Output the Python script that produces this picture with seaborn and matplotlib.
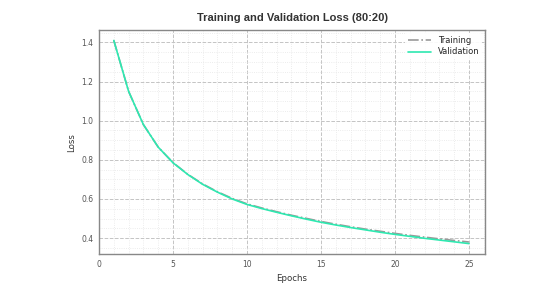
import matplotlib
matplotlib.use("Agg")
import matplotlib.pyplot as plt
import seaborn as sns
import pandas as pd
from matplotlib.ticker import AutoMinorLocator

epochs = list(range(1, 26))
train_loss = [1.41, 1.15, 0.98, 0.865, 0.786, 0.726, 0.677, 0.637, 0.603, 0.575,
              0.554, 0.535, 0.517, 0.501, 0.485, 0.471, 0.458, 0.446, 0.435, 0.424,
              0.414, 0.405, 0.396, 0.388, 0.380]
val_loss = [1.41, 1.15, 0.98, 0.865, 0.785, 0.725, 0.675, 0.635, 0.600, 0.572,
            0.551, 0.532, 0.514, 0.497, 0.481, 0.467, 0.454, 0.442, 0.430, 0.419,
            0.409, 0.399, 0.390, 0.381, 0.372]

sns.set_theme(style="white")
plt.rcParams['font.family'] = ['DejaVu Sans']

df = pd.DataFrame({'epoch': epochs, 'Training': train_loss, 'Validation': val_loss})

fig = plt.figure(figsize=(5.47, 3.04), dpi=100)
ax = fig.add_axes([0.181, 0.164, 0.706, 0.737])

sns.lineplot(data=df, x='epoch', y='Training', ax=ax, color='#999999',
             linestyle='-.', linewidth=1.2, label='Training')
sns.lineplot(data=df, x='epoch', y='Validation', ax=ax, color='#2ee8b0',
             linewidth=1.2, label='Validation')

ax.set_xlim(0, 26.1)
ax.set_ylim(0.318, 1.463)
ax.set_xticks([0, 5, 10, 15, 20, 25])
ax.set_yticks([0.4, 0.6, 0.8, 1.0, 1.2, 1.4])
ax.xaxis.set_minor_locator(AutoMinorLocator(5))
ax.yaxis.set_minor_locator(AutoMinorLocator(4))
ax.grid(which='major', linestyle='--', color='#c4c4c4', linewidth=0.7)
ax.grid(which='minor', linestyle=':', color='#e6e6e6', linewidth=0.6)
ax.tick_params(which='both', direction='in', labelsize=5.5, colors='#555555', pad=4)
ax.tick_params(which='major', length=3, width=0.6)
ax.tick_params(which='minor', length=1.5, width=0.5)
for s in ax.spines.values():
    s.set_color('#888888')
    s.set_linewidth(1.0)

ax.set_title('Training and Validation Loss (80:20)', fontsize=8, fontweight='bold',
             color='#333333', pad=6.5, family=['Liberation Sans', 'DejaVu Sans'])
ax.set_xlabel('Epochs', fontsize=6.2, color='#333333', labelpad=4)
ax.set_ylabel('Loss', fontsize=6.2, color='#333333', labelpad=4)
ax.legend(loc='upper right', fontsize=6, frameon=True, framealpha=0.9,
          facecolor='white', edgecolor='none', handlelength=2.8, handletextpad=0.8,
          labelspacing=0.3, borderaxespad=0.4, borderpad=0.3)

fig.savefig('out.png', dpi=100)
